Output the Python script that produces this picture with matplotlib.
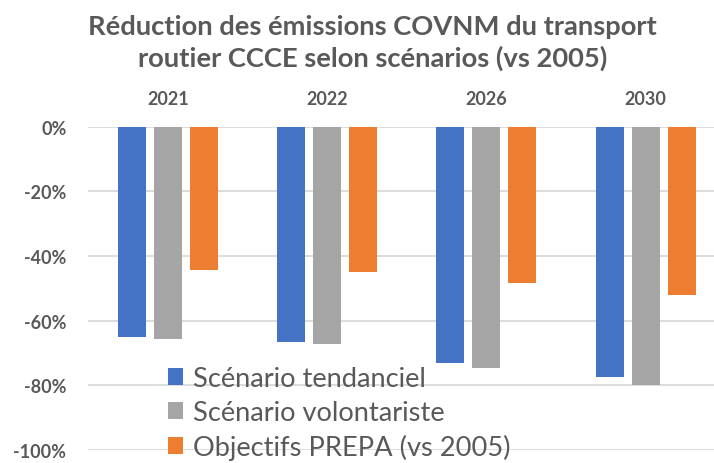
import numpy as np
import matplotlib
matplotlib.use("Agg")
import matplotlib.pyplot as plt
from matplotlib.patches import Patch

plt.rcParams['font.family'] = ['Lato', 'DejaVu Sans']

years = ['2021', '2022', '2026', '2030']
series_names = ['Scénario tendanciel', 'Scénario volontariste', 'Objectifs PREPA (vs 2005)']
tendanciel = [-65.2, -66.5, -73.0, -77.6]
volontariste = [-65.7, -67.1, -74.7, -80.0]
prepa = [-44.3, -45.1, -48.5, -52.1]
colors = ['#4472C4', '#A5A5A5', '#ED7D31']
yticks = [0, -20, -40, -60, -80, -100]

text_gray = '#595959'

fig = plt.figure(figsize=(7.14, 4.64), dpi=100)
ax = fig.add_axes([88 / 714, 13.2 / 464, 1 - 88 / 714, (450.8 - 127.7) / 464])

x = np.arange(len(years))
width = 0.176
step = 0.226
for i, vals in enumerate([tendanciel, volontariste, prepa]):
    ax.bar(x + (i - 1) * step, vals, width, color=colors[i], zorder=3)

ax.set_xlim(-0.502, 3.43)
ax.set_ylim(-100, 0)
ax.set_yticks(yticks)
ax.set_yticklabels([f'{v}%' for v in yticks])
ax.yaxis.grid(True, color='#D9D9D9', linewidth=1.3, zorder=0)
ax.set_axisbelow(True)
for s in ax.spines.values():
    s.set_visible(False)

ax.xaxis.tick_top()
ax.set_xticks(x)
ax.set_xticklabels(years)
ax.tick_params(axis='x', length=0, pad=14, labelsize=13, labelcolor=text_gray)
ax.tick_params(axis='y', length=0, pad=15.5, labelsize=13, labelcolor=text_gray)
for lab in ax.get_xticklabels() + ax.get_yticklabels():
    lab.set_fontweight('bold')

fig.text(0.522, 1 - 43 / 464, 'Réduction des émissions COVNM du transport\nroutier CCCE selon scénarios (vs 2005)',
         ha='center', va='center', fontsize=19.7, fontweight='bold', color=text_gray, linespacing=1.32)

handles = [Patch(facecolor=c, edgecolor='none') for c in colors]
leg = fig.legend(handles, series_names, loc='upper left', bbox_to_anchor=(168 / 714, 1 - 367 / 464),
                 frameon=False, fontsize=19.6, handlelength=0.55, handleheight=0.55,
                 handletextpad=0.37, labelspacing=0.33, borderpad=0, borderaxespad=0)
for t in leg.get_texts():
    t.set_color(text_gray)

fig.savefig('out.png', dpi=100)
